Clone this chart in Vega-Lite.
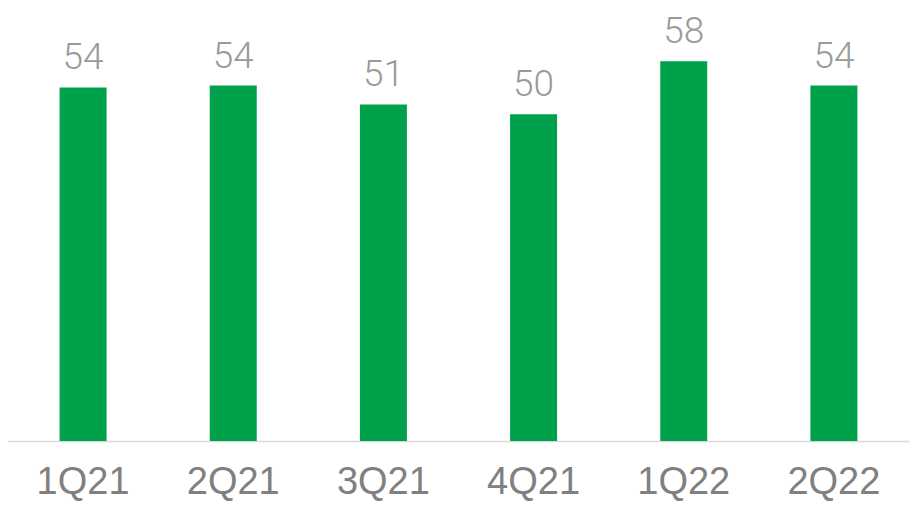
{
  "$schema": "https://vega.github.io/schema/vega-lite/v6.json",
  "width": 901,
  "height": 441,
  "autosize": "none",
  "padding": {"left": 8, "top": 0, "right": 1, "bottom": 65},
  "background": "white",
  "data": {"values": [
    {"q": "1Q21", "v": 54.0},
    {"q": "2Q21", "v": 54.3},
    {"q": "3Q21", "v": 51.4},
    {"q": "4Q21", "v": 49.9},
    {"q": "1Q22", "v": 58.0},
    {"q": "2Q22", "v": 54.3}
  ]},
  "encoding": {
    "x": {"field": "q", "type": "nominal", "sort": null,
      "scale": {"paddingInner": 0.687, "paddingOuter": 0.3435},
      "axis": {"title": null, "ticks": false, "labelAngle": 0, "labelFont": "Liberation Sans", "labelFontSize": 38, "labelColor": "#808080", "labelPadding": 22, "domainColor": "#d9d9d9", "domainWidth": 1.5}},
    "y": {"field": "v", "type": "quantitative", "scale": {"domain": [0, 67.36], "nice": false, "zero": true}, "axis": null}
  },
  "layer": [
    {"mark": {"type": "bar", "color": "#00A14B"}},
    {"mark": {"type": "text", "baseline": "alphabetic", "dy": -18, "font": "Roboto", "fontWeight": 300, "fontSize": 37, "color": "#9a9a9a"},
     "encoding": {"text": {"field": "v", "type": "quantitative", "format": ".0f"}}}
  ],
  "config": {"view": {"stroke": null}, "font": "Liberation Sans"}
}
